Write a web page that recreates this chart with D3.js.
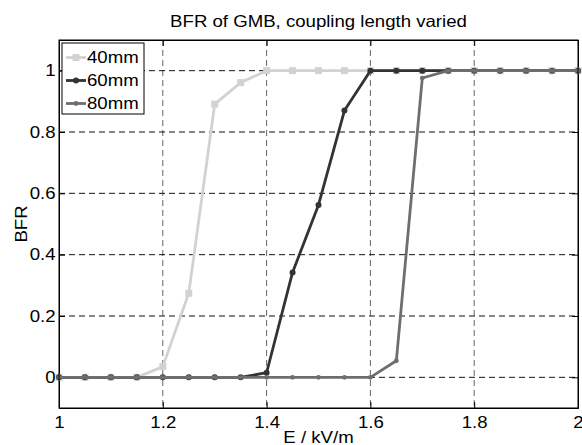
<!DOCTYPE html>
<html>
<head>
<meta charset="utf-8">
<script src="https://cdn.jsdelivr.net/npm/d3@7"></script>
<style>
  html, body { margin: 0; padding: 0; background: #fff; }
  svg text { font-family: "Liberation Sans", Arial, Helvetica, sans-serif; fill: #000; }
</style>
</head>
<body>
<div id="chart"></div>
<script>
// --- data ---
const fieldValues = [1.00, 1.05, 1.10, 1.15, 1.20, 1.25, 1.30, 1.35, 1.40, 1.45, 1.50,
                     1.55, 1.60, 1.65, 1.70, 1.75, 1.80, 1.85, 1.90, 1.95, 2.00];
const bfr40 = [0, 0, 0, 0, 0.035, 0.274, 0.891, 0.961, 1, 1, 1, 1, 1, 1, 1, 1, 1, 1, 1, 1, 1];
const bfr60 = [0, 0, 0, 0, 0, 0, 0, 0, 0.015, 0.342, 0.562, 0.870, 1, 1, 1, 1, 1, 1, 1, 1, 1];
const bfr80 = [0, 0, 0, 0, 0, 0, 0, 0, 0, 0, 0, 0, 0, 0.054, 0.976, 1, 1, 1, 1, 1, 1];
const seriesNames = ["40mm", "60mm", "80mm"];
const xTicks = [1, 1.2, 1.4, 1.6, 1.8, 2];
const yTicks = [0, 0.2, 0.4, 0.6, 0.8, 1];

const chartTitle = "BFR of GMB, coupling length varied";
const xLabel = "E / kV/m";
const yLabel = "BFR";

// --- layout ---
const W = 582, H = 445;
const margin = {top: 40, right: 4, bottom: 37, left: 59};
const width = W - margin.left - margin.right;
const height = H - margin.top - margin.bottom;
const fontSize = 16.5;

const svg = d3.select("#chart").append("svg")
    .attr("width", W).attr("height", H);

// title first: its width in the reference (~297px) sets the horizontal text stretch
const title = svg.append("text")
    .attr("text-anchor", "middle").attr("font-size", fontSize)
    .text(chartTitle);
const sx = Math.max(1, Math.min(1.3, 297 / title.node().getComputedTextLength()));
const stretch = `scale(${sx},1)`;
title.attr("transform", `translate(${margin.left + width / 2},27) ${stretch}`);

const g = svg.append("g").attr("transform", `translate(${margin.left},${margin.top})`);

const x = d3.scaleLinear().domain([1, 2]).range([0, width]);
const y = d3.scaleLinear().domain([-0.1, 1.1]).range([height, 0]);

// grid lines
g.append("g").selectAll("line").data(xTicks.slice(1, -1)).join("line")
    .attr("x1", d => x(d)).attr("x2", d => x(d))
    .attr("y1", 0).attr("y2", height)
    .attr("stroke", "#666").attr("stroke-width", 1)
    .attr("stroke-dasharray", "6,4");
g.append("g").selectAll("line").data(yTicks).join("line")
    .attr("x1", 0).attr("x2", width)
    .attr("y1", d => y(d)).attr("y2", d => y(d))
    .attr("stroke", "#111").attr("stroke-width", 1)
    .attr("stroke-dasharray", "6,4");

// axes (inward ticks, matlab style)
const xAxis = g.append("g").attr("transform", `translate(0,${height})`)
    .call(d3.axisBottom(x).tickValues(xTicks).tickSize(-6).tickPadding(8).tickFormat(d3.format("")));
const xAxisTop = g.append("g")
    .call(d3.axisTop(x).tickValues(xTicks).tickSize(-6).tickFormat(""));
const yAxis = g.append("g")
    .call(d3.axisLeft(y).tickValues(yTicks).tickSize(-6).tickPadding(3).tickFormat(d3.format("")));
const yAxisRight = g.append("g").attr("transform", `translate(${width},0)`)
    .call(d3.axisRight(y).tickValues(yTicks).tickSize(-6).tickFormat(""));

[xAxis, xAxisTop, yAxis, yAxisRight].forEach(a => {
    a.select(".domain").attr("stroke", "#000").attr("stroke-width", 1);
    a.selectAll(".tick line").attr("stroke", "#000");
});
xAxis.selectAll("text").attr("font-size", fontSize).attr("transform", stretch);
yAxis.selectAll("text").attr("font-size", fontSize).attr("transform", stretch);

// series
const series = [
    {name: seriesNames[0], values: bfr40, color: "#d2d2d2", marker: "square", size: 7},
    {name: seriesNames[1], values: bfr60, color: "#333333", marker: "circle", size: 3},
    {name: seriesNames[2], values: bfr80, color: "#6e6e6e", marker: "circle", size: 2.4}
];

const line = d3.line().x(d => x(d[0])).y(d => y(d[1]));

series.forEach(s => {
    const pts = fieldValues.map((f, i) => [f, s.values[i]]);
    const grp = g.append("g");
    grp.append("path").datum(pts)
        .attr("d", line)
        .attr("fill", "none")
        .attr("stroke", s.color)
        .attr("stroke-width", 2.8)
        .attr("stroke-linejoin", "round");
    if (s.marker === "square") {
        grp.selectAll("rect").data(pts).join("rect")
            .attr("x", d => x(d[0]) - s.size / 2)
            .attr("y", d => y(d[1]) - s.size / 2)
            .attr("width", s.size).attr("height", s.size)
            .attr("fill", s.color);
    } else {
        grp.selectAll("circle").data(pts).join("circle")
            .attr("cx", d => x(d[0])).attr("cy", d => y(d[1]))
            .attr("r", s.size)
            .attr("fill", s.color);
    }
});

// box on top
g.append("rect").attr("width", width).attr("height", height)
    .attr("fill", "none").attr("stroke", "#000").attr("stroke-width", 1);

// legend
const legend = g.append("g").attr("transform", "translate(3,3)");
legend.append("rect").attr("width", 82).attr("height", 71)
    .attr("fill", "#fff").attr("stroke", "#000").attr("stroke-width", 1);
series.forEach((s, i) => {
    const ly = 14.5 + i * 23;
    const item = legend.append("g").attr("transform", `translate(0,${ly})`);
    item.append("line").attr("x1", 4).attr("x2", 24)
        .attr("stroke", s.color).attr("stroke-width", 2.8);
    if (s.marker === "square") {
        item.append("rect").attr("x", 14 - s.size / 2).attr("y", -s.size / 2)
            .attr("width", s.size).attr("height", s.size).attr("fill", s.color);
    } else {
        item.append("circle").attr("cx", 14).attr("r", s.size).attr("fill", s.color);
    }
    item.append("text").attr("x", 0).attr("y", 0).attr("dy", "0.35em")
        .attr("font-size", fontSize)
        .attr("transform", `translate(25,0) ${stretch}`)
        .text(s.name);
});

// axis labels
svg.append("text")
    .attr("transform", `translate(${margin.left + width / 2},443) ${stretch}`)
    .attr("text-anchor", "middle").attr("font-size", fontSize)
    .text(xLabel);
svg.append("text")
    .attr("transform", `translate(27,${margin.top + height / 2}) rotate(-90) ${stretch}`)
    .attr("text-anchor", "middle").attr("font-size", fontSize)
    .text(yLabel);
</script>
</body>
</html>
